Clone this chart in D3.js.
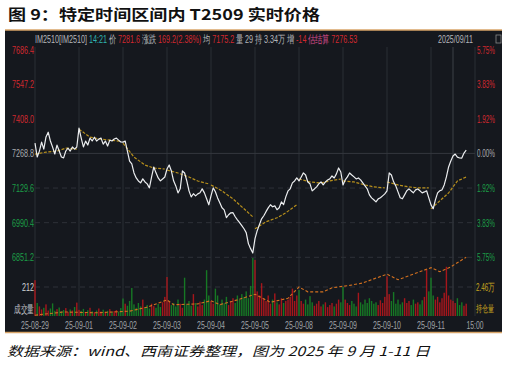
<!DOCTYPE html>
<html>
<head>
<meta charset="utf-8">
<script src="https://cdn.jsdelivr.net/npm/d3@7"></script>
<style>
  body { margin: 0; background: #fff; }
  svg { display: block; font-family: "Liberation Sans", Arial, sans-serif; }
</style>
</head>
<body>
<svg id="chart" width="507" height="366"></svg>
<script>
// ---- data ----
var dayLabels = ['25-08-29', '25-09-01', '25-09-02', '25-09-03', '25-09-04',
                 '25-09-05', '25-09-08', '25-09-09', '25-09-10', '25-09-11'];
var endLabel = '15:00';
var pointsPerDay = 20;

var priceTicks = [7686.4, 7547.2, 7408.0, 7268.8, 7129.6, 6990.4, 6851.2];
var pctTicks = ['5.75%', '3.83%', '1.92%', '0.00%', '1.92%', '3.83%', '5.75%'];
var baseLevel = 7268.8;
var volTick = 212;
var oiTick = 2.46;   // 万

// last price, 20 samples per day (last day stops at 14:21)
var price = [
  7310.2, 7254.6, 7278.0, 7314.4, 7286.2, 7334.8, 7354.0, 7318.6, 7294.2, 7266.4, 7302.0, 7278.6, 7254.2, 7250.8, 7278.4, 7290.0, 7278.2, 7294.6, 7286.0, 7294.4,
  7370.2, 7330.4, 7294.6, 7318.0, 7302.4, 7330.2, 7318.8, 7334.0, 7318.4, 7326.2, 7330.6, 7306.0, 7318.2, 7298.4, 7322.0, 7318.6, 7326.4, 7330.0, 7322.2, 7314.6,
  7314.0, 7318.2, 7278.4, 7238.0, 7226.6, 7190.2, 7170.4, 7158.0, 7150.2, 7166.4, 7154.0, 7146.2, 7130.4, 7174.0, 7214.2, 7190.6, 7170.0, 7158.4, 7166.2, 7174.0,
  7206.2, 7222.4, 7198.0, 7158.6, 7138.2, 7110.0, 7126.4, 7198.2, 7190.0, 7158.4, 7118.2, 7094.0, 7106.6, 7098.2, 7106.0, 7110.4, 7126.2, 7110.0, 7086.4, 7062.2,
  7098.0, 7130.2, 7114.4, 7090.0, 7070.6, 7050.2, 7042.0, 7010.4, 7022.2, 7030.0, 7030.6, 7014.2, 7002.0, 6990.4, 6978.2, 6966.0, 6950.4, 6906.2, 6886.0, 6868.4,
  6926.0, 6958.2, 6982.4, 7006.0, 7018.2, 7034.6, 7050.0, 7062.4, 7054.2, 7058.0, 7042.4, 7050.2, 7074.0, 7062.6, 7094.2, 7118.0, 7126.4, 7150.2, 7158.0, 7170.4,
  7158.2, 7174.0, 7190.4, 7182.2, 7154.0, 7146.6, 7118.2, 7126.0, 7134.4, 7146.2, 7154.0, 7142.4, 7154.2, 7162.0, 7166.4, 7178.2, 7170.0, 7186.4, 7210.2, 7194.0,
  7142.2, 7162.0, 7174.4, 7190.2, 7182.0, 7174.6, 7166.2, 7170.0, 7162.4, 7150.2, 7138.0, 7126.4, 7102.2, 7090.0, 7082.6, 7074.2, 7086.0, 7090.4, 7098.2, 7106.0,
  7118.4, 7190.2, 7182.0, 7154.6, 7138.2, 7114.0, 7090.4, 7086.2, 7102.0, 7118.4, 7126.2, 7118.0, 7110.6, 7122.2, 7126.0, 7118.4, 7110.2, 7114.0, 7118.6, 7090.2,
  7062.0, 7046.4, 7082.2, 7110.0, 7118.6, 7122.2, 7142.0, 7174.4, 7214.2, 7238.0, 7258.6, 7266.2, 7254.0, 7250.4, 7250.0, 7270.2, 7281.6
];

// volume per sample
var volume = [
  262, 95, 70, 48, 60, 85, 40, 55, 92, 38, 50, 62, 35, 44, 58, 30, 48, 40, 66, 98,
  45, 38, 52, 30, 42, 60, 35, 28, 40, 55, 33, 46, 30, 38, 50, 27, 36, 44, 32, 58,
  128, 90, 75, 110, 205, 85, 60, 95, 70, 120, 65, 80, 55, 90, 72, 60, 88, 66, 100, 140,
  285, 110, 80, 95, 70, 120, 90, 60, 280, 85, 110, 75, 160, 95, 70, 105, 80, 120, 335, 150,
  110, 90, 200, 150, 85, 120, 95, 140, 80, 110, 130, 95, 150, 120, 160, 140, 180, 130, 220, 424,
  410, 180, 150, 240, 130, 110, 150, 90, 120, 165, 100, 85, 130, 95, 110, 120, 140, 200, 110, 150,
  190, 110, 90, 120, 85, 145, 100, 75, 90, 110, 70, 85, 100, 65, 80, 95, 70, 90, 120, 100,
  212, 120, 95, 80, 110, 90, 70, 170, 100, 85, 120, 95, 130, 110, 90, 100, 80, 115, 95, 140,
  290, 160, 110, 175, 90, 120, 85, 100, 130, 95, 110, 80, 120, 90, 100, 85, 115, 140, 340, 180,
  280, 150, 120, 140, 100, 130, 170, 360, 150, 120, 110, 95, 130, 80, 100, 75, 90
];

// intraday average price, a few readings per day (resets every day)
var avgPrice = [
  [7266, 7274, 7278, 7290, 7286],
  [7366, 7334, 7326, 7322, 7318],
  [7310, 7254, 7222, 7210, 7206],
  [7202, 7190, 7174, 7158, 7146],
  [7142, 7118, 7086, 7054, 7014],
  [6966, 6994, 7010, 7030, 7062],
  [7166, 7154, 7150, 7158, 7166],
  [7158, 7154, 7142, 7134, 7130],
  [7154, 7142, 7134, 7130, 7130],
  [7046, 7078, 7110, 7158, 7174]
];

// open interest (万) at sample index
var oiIndex = [0, 13, 28, 43, 51, 60, 63, 74, 80, 84, 92, 100, 107, 115, 120, 124, 131, 135, 143, 149, 160, 165, 172, 180, 184, 189, 196];
var oiValue = [2.11, 2.15, 2.14, 2.16, 2.21, 2.30, 2.24, 2.25, 2.29, 2.24, 2.30, 2.37, 2.27, 2.32, 2.46, 2.40, 2.40, 2.45, 2.48, 2.51, 2.62, 2.55, 2.62, 2.70, 2.65, 2.71, 2.83];

var quoteText = ['IM2510[IM2510]', '14:21', '价', '7281.6', '涨跌', '169.2(2.38%)', '均', '7175.2',
                 '量', '29', '持', '3.34万', '增', '-14', '估结算', '7276.53'];
var quoteKind = ['t', 'time', 't', 'up', 't', 'up', 't', 'up', 't', 't', 't', 't', 't', 'up', 'est', 'up'];
var quoteDate = '2025/09/11';

var titleText = '图 9：特定时间区间内 T2509 实时价格';
var sourceText = '数据来源：wind、西南证券整理，图为 2025 年 9 月 1-11 日';

// ---- drawing ----
var RED = '#d2282f', GREEN = '#1c9e47', GREY = '#a9abaf', YEL = '#c9a51f';
var kindColor = { t: '#b4b6ba', time: '#2fb3b0', up: RED, est: '#d04a8a' };

var svg = d3.select('#chart');
var nTotal = dayLabels.length * pointsPerDay;

var x = d3.scaleLinear().domain([0, nTotal]).range([35, 475]);
var y = d3.scaleLinear().domain([6851.2, 7686.4]).range([257.3, 49.5]);
var yVol = d3.scaleLinear().domain([0, volTick]).range([316, 287]);
var yOi = d3.scaleLinear().domain([2.10, oiTick]).range([316, 287]);

function levelColor(p) {
  return p > baseLevel ? RED : (p < baseLevel ? GREEN : GREY);
}

// title
svg.append('text')
  .attr('x', 8).attr('y', 20)
  .attr('textLength', 312).attr('lengthAdjust', 'spacingAndGlyphs')
  .style('font-family', '"Noto Sans CJK SC", sans-serif')
  .style('font-weight', 'bold').style('font-size', '15px').style('fill', '#111')
  .text(titleText);

// dark panel with orange rules
svg.append('rect').attr('x', 5).attr('y', 30).attr('width', 497).attr('height', 302).style('fill', '#15181e');
[30, 332.5].forEach(function(yy) {
  svg.append('line').attr('x1', 5).attr('x2', 502).attr('y1', yy).attr('y2', yy)
    .style('stroke', '#d8a468').style('stroke-width', 1.5);
});

// grid
var grid = svg.append('g');
d3.range(dayLabels.length + 1).forEach(function(d) {
  grid.append('line')
    .attr('x1', x(d * pointsPerDay)).attr('x2', x(d * pointsPerDay))
    .attr('y1', 47).attr('y2', 316)
    .style('stroke', '#2b2e35').style('stroke-width', 1);
});
// noon split of the current day
grid.append('line')
  .attr('x1', x(nTotal - pointsPerDay / 2)).attr('x2', x(nTotal - pointsPerDay / 2))
  .attr('y1', 47).attr('y2', 316)
  .style('stroke', '#3d4047').style('stroke-width', 1);

priceTicks.forEach(function(p) {
  if (p > baseLevel) return;
  grid.append('line')
    .attr('x1', 35).attr('x2', 475).attr('y1', y(p)).attr('y2', y(p))
    .style('stroke', p === baseLevel ? '#34373e' : '#2e3138')
    .style('stroke-dasharray', p === baseLevel ? null : '5,4');
});
grid.append('line')
  .attr('x1', 35).attr('x2', 475).attr('y1', yVol(volTick)).attr('y2', yVol(volTick))
  .style('stroke', '#2e3138').style('stroke-dasharray', '5,4');

// axis labels
var labels = svg.append('g').style('font-size', '10.5px');
priceTicks.forEach(function(p, i) {
  labels.append('text')
    .attr('x', 34).attr('y', y(p) + 4).attr('text-anchor', 'end')
    .attr('textLength', 22).attr('lengthAdjust', 'spacingAndGlyphs')
    .style('fill', levelColor(p)).text(p.toFixed(1));
  labels.append('text')
    .attr('x', 477).attr('y', y(p) + 4)
    .attr('textLength', 18).attr('lengthAdjust', 'spacingAndGlyphs')
    .style('fill', levelColor(p)).text(pctTicks[i]);
});
labels.append('text').attr('x', 34).attr('y', yVol(volTick) + 4).attr('text-anchor', 'end')
  .attr('textLength', 12).attr('lengthAdjust', 'spacingAndGlyphs')
  .style('fill', '#d0d2d5').text(volTick);
labels.append('text').attr('x', 34).attr('y', 313).attr('text-anchor', 'end')
  .attr('textLength', 20).attr('lengthAdjust', 'spacingAndGlyphs')
  .style('fill', '#c4c6ca').text('成交量');
labels.append('text').attr('x', 476).attr('y', yVol(volTick) + 4)
  .attr('textLength', 19).attr('lengthAdjust', 'spacingAndGlyphs')
  .style('fill', YEL).text(oiTick + '万');
labels.append('text').attr('x', 476).attr('y', 312)
  .attr('textLength', 18).attr('lengthAdjust', 'spacingAndGlyphs')
  .style('font-size', '9.5px')
  .style('fill', YEL).text('持仓量');

dayLabels.concat([endLabel]).forEach(function(lab, d) {
  labels.append('text')
    .attr('x', x(d * pointsPerDay)).attr('y', 329).attr('text-anchor', 'middle')
    .attr('textLength', lab.length > 5 ? 28 : 17).attr('lengthAdjust', 'spacingAndGlyphs')
    .style('fill', '#9fa1a5').text(lab);
});

// quote header
var head = svg.append('text').style('font-size', '11px');
quoteText.forEach(function(t, i) {
  head.append('tspan').attr('dx', i === 0 ? 0 : 3)
    .style('fill', kindColor[quoteKind[i]]).text(t);
});
var hw = head.node().getBBox().width;
head.attr('transform', 'translate(35,43) scale(' + (325 / hw) + ',1)');
svg.append('text').attr('x', 473).attr('y', 43).attr('text-anchor', 'end')
  .attr('textLength', 35).attr('lengthAdjust', 'spacingAndGlyphs')
  .style('font-size', '11px').style('fill', '#b4b6ba').text(quoteDate);
svg.append('rect').attr('x', 496).attr('y', 35).attr('width', 5).attr('height', 8)
  .style('fill', 'none').style('stroke', '#888').style('stroke-width', 0.8);

// volume bars
svg.append('g').selectAll('rect')
  .data(volume)
  .enter().append('rect')
  .attr('x', function(d, i) { return x(i) - 0.7; })
  .attr('width', 1.4)
  .attr('y', function(d) { return yVol(d); })
  .attr('height', function(d) { return yVol(0) - yVol(d); })
  .style('fill', function(d, i) { return (i === 0 || price[i] >= price[i - 1]) ? '#c0161b' : '#168a26'; })
  .style('opacity', 0.85);

// open interest
svg.append('path')
  .datum(oiIndex)
  .attr('d', d3.line().x(function(t) { return x(t); }).y(function(t, i) { return yOi(oiValue[i]); }))
  .style('fill', 'none').style('stroke', '#d2701f').style('stroke-width', 1.1)
  .style('stroke-dasharray', '3,2');

// intraday average line, one path per day
var avgLine = d3.line().x(function(d) { return x(d[0]); }).y(function(d) { return y(d[1]); });
avgPrice.forEach(function(vals, d) {
  var start = d * pointsPerDay;
  var n = Math.min(pointsPerDay, price.length - start);
  var pts = vals.map(function(v, j) { return [start + Math.round(j * (n - 1) / (vals.length - 1)), v]; });
  svg.append('path').datum(pts).attr('d', avgLine)
    .style('fill', 'none').style('stroke', '#b8901c').style('stroke-width', 1.2)
    .style('stroke-dasharray', '3,1.5');
});

// price line
svg.append('path')
  .datum(price)
  .attr('d', d3.line().x(function(d, i) { return x(i); }).y(function(d) { return y(d); }))
  .style('fill', 'none').style('stroke', '#eceef0').style('stroke-width', 1.2)
  .style('stroke-linejoin', 'round');

// source note
svg.append('text')
  .attr('x', 7).attr('y', 356)
  .attr('textLength', 423).attr('lengthAdjust', 'spacingAndGlyphs')
  .style('font-family', '"Noto Sans CJK SC", sans-serif')
  .style('font-style', 'italic').style('font-size', '13px').style('fill', '#111')
  .text(sourceText);
</script>
</body>
</html>
